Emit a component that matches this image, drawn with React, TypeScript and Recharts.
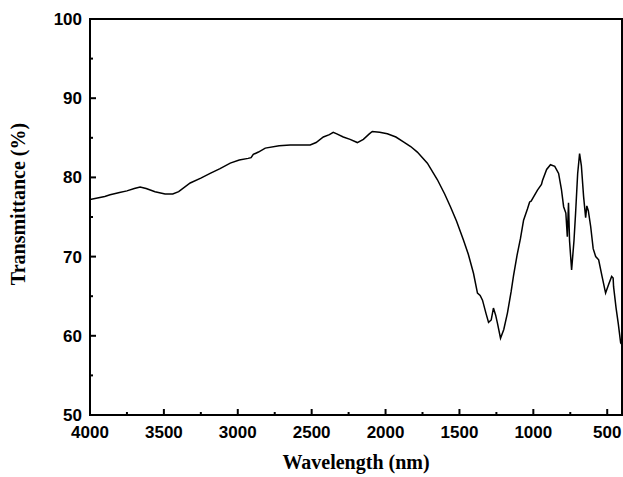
import { LineChart, Line, XAxis, YAxis, ReferenceArea } from "recharts";

// spectrum (x = wavenumber on axis labelled "Wavelength (nm)")
const wavelength = [
  4000, 3900, 3864, 3800, 3750, 3700, 3661, 3620, 3560, 3492, 3440, 3400, 3322, 3250, 3187, 3120,
  3051, 2990, 2930, 2910, 2895, 2860, 2814, 2720, 2645, 2510, 2470, 2421, 2380, 2354, 2330, 2286,
  2240, 2191, 2150, 2110, 2090, 2040, 1988, 1930, 1879, 1830, 1785, 1717, 1649, 1600, 1561, 1520,
  1473, 1440, 1405, 1378, 1360, 1344, 1320, 1303, 1285, 1270, 1255, 1243, 1222, 1200, 1175, 1150,
  1134, 1110, 1087, 1066, 1040, 1025, 1015, 972, 945, 938, 910, 884, 855, 829, 810, 795,
  780, 770, 762, 755, 741, 725, 714, 700, 687, 675, 660, 646, 638, 628, 612, 595,
  578, 558, 535, 511, 490, 470, 460, 457, 440, 425, 409, 400,
];
const transmittance = [
  77.2, 77.6, 77.8, 78.1, 78.3, 78.6, 78.8, 78.6, 78.2, 77.9, 77.9, 78.2, 79.3, 79.9, 80.5, 81.1,
  81.8, 82.2, 82.4, 82.5, 82.9, 83.2, 83.7, 84.0, 84.1, 84.1, 84.4, 85.1, 85.4, 85.7, 85.5, 85.1,
  84.8, 84.4, 84.8, 85.5, 85.8, 85.7, 85.5, 85.1, 84.5, 83.9, 83.2, 81.8, 79.7, 77.9, 76.3, 74.5,
  72.1, 70.3, 67.9, 65.4, 65.1, 64.5, 62.8, 61.7, 62.0, 63.5, 62.6, 61.6, 59.7, 60.8, 62.9, 65.6,
  67.6, 70.2, 72.3, 74.6, 76.0, 76.9, 77.0, 78.4, 79.1, 79.6, 81.0, 81.6, 81.4, 80.5, 78.5, 76.3,
  75.5, 72.5, 76.8, 72.0, 68.3, 72.0, 75.5, 80.5, 83.0, 81.5, 77.6, 74.9, 76.4, 75.8, 73.8, 71.0,
  70.0, 69.6, 67.5, 65.4, 66.5, 67.5, 67.3, 66.2, 63.5, 61.5, 59.1, 58.9,
];

const xTicks = [4000, 3750, 3500, 3250, 3000, 2750, 2500, 2250, 2000, 1750, 1500, 1250, 1000, 750, 500];
const yTicks = [50, 55, 60, 65, 70, 75, 80, 85, 90, 95, 100];

const data = wavelength.map((w, i) => ({ w, t: transmittance[i] }));

const tickFont = { fontFamily: "'Liberation Sans', Arial, sans-serif", fontWeight: 700, fontSize: 17 };
const titleFont = { fontFamily: "'Liberation Serif', 'Times New Roman', serif", fontWeight: 700, fontSize: 20 };

function XTick({ x, y, payload }: any) {
  const major = payload.value % 500 === 0;
  return (
    <g>
      <line x1={x} x2={x} y1={y} y2={y - (major ? 6 : 3)} stroke="#000" strokeWidth={2} />
      {major && (
        <text x={x} y={y + 23} textAnchor="middle" fill="#000" style={tickFont}>
          {payload.value}
        </text>
      )}
    </g>
  );
}

function YTick({ x, y, payload }: any) {
  const major = payload.value % 10 === 0;
  return (
    <g>
      <line x1={x} x2={x + (major ? 6 : 3)} y1={y} y2={y} stroke="#000" strokeWidth={2} />
      {major && (
        <text x={x - 8} y={y + 6} textAnchor="end" fill="#000" style={tickFont}>
          {payload.value}
        </text>
      )}
    </g>
  );
}

export default function App() {
  return (
    <div style={{ position: "absolute", left: 0, top: 0, width: 623, height: 477 }}>
      <LineChart width={623} height={477} data={data} margin={{ top: 19, right: 1, bottom: 0, left: 0 }}>
        <XAxis
          dataKey="w"
          type="number"
          domain={[400, 4000]}
          reversed
          allowDataOverflow
          ticks={xTicks}
          interval={0}
          height={62}
          tickLine={false}
          tickSize={0}
          tickMargin={0}
          axisLine={{ stroke: "#000", strokeWidth: 2 }}
          tick={<XTick />}
        />
        <YAxis
          type="number"
          domain={[50, 100]}
          allowDataOverflow
          ticks={yTicks}
          interval={0}
          width={90}
          tickLine={false}
          tickSize={0}
          tickMargin={0}
          axisLine={{ stroke: "#000", strokeWidth: 2 }}
          tick={<YTick />}
        />
        <ReferenceArea x1={4000} x2={400} y1={50} y2={100} fill="none" stroke="#000" strokeWidth={2} />
        <Line
          dataKey="t"
          type="linear"
          stroke="#000"
          strokeWidth={1.5}
          dot={false}
          isAnimationActive={false}
        />
        <text x={356} y={469} textAnchor="middle" fill="#000" style={titleFont}>
          Wavelength (nm)
        </text>
        <text
          x={25}
          y={204}
          transform="rotate(-90 25 204)"
          textAnchor="middle"
          fill="#000"
          style={titleFont}
        >
          Transmittance (%)
        </text>
      </LineChart>
    </div>
  );
}
